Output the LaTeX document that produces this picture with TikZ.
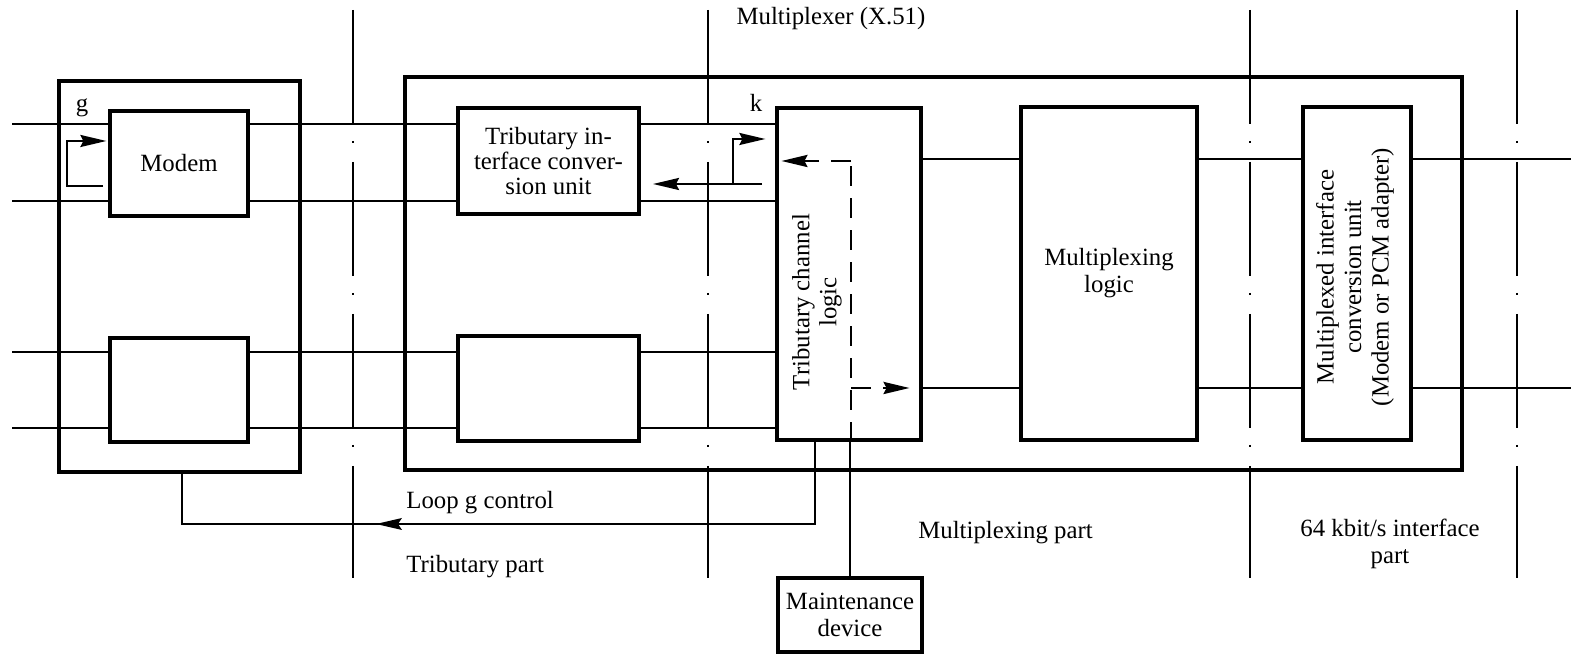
\documentclass[tikz,border=0pt]{standalone}
\usepackage{fontspec}
\setmainfont{Liberation Serif}
\usetikzlibrary{arrows.meta}
\begin{document}
\begin{tikzpicture}[x=0.5pt,y=-0.5pt,
  font=\fontsize{12.4}{13.5}\selectfont,
  box/.style={draw, line width=1.6pt, inner sep=0pt, align=center},
  sig/.style={line width=1.3pt},
  thinl/.style={line width=1.1pt},
  arr/.style={-{Stealth[length=13pt,width=6pt,inset=1.5pt]}},
  dashdot/.style={line width=0.9pt, dash pattern=on 57pt off 8.5pt on 1.2pt off 9.3pt},
  dsh/.style={line width=1.4pt, dash pattern=on 10pt off 6pt},
  lbl/.style={inner sep=0pt, align=center}]
\useasboundingbox (0,0) rectangle (1571,656);

% dash-dot separators
\foreach \xx/\nm in {353/s1,708/s2,1250/s3,1517/s4}{
  \coordinate (\nm t) at (\xx,10);
  \coordinate (\nm b) at (\xx,578);
  \draw[dashdot] (\nm t) -- (\nm b);
}

% boxes
\node[box, minimum width=120.5pt, minimum height=195.5pt] (outerL) at (179.5,276.5) {};
\node[box, minimum width=528.5pt, minimum height=196.5pt] (outerM) at (933.5,273.5) {};
\node[box, minimum width=69pt, minimum height=52.5pt] (modem1) at (179,163.5) {Modem};
\node[box, minimum width=69pt, minimum height=52pt] (modem2) at (179,390) {};
\node[box, minimum width=90.5pt, minimum height=53pt, font=\fontsize{12.4}{12.3}\selectfont] (trib1) at (548.5,161) {Tributary in-\\terface conver-\\sion unit};
\node[box, minimum width=90.5pt, minimum height=52.5pt] (trib2) at (548.5,388.5) {};
\node[box, minimum width=72pt, minimum height=166pt] (tcl) at (849,274) {};
\node[box, minimum width=88pt, minimum height=166.5pt] (mux) at (1109,273.5) {Multiplexing\\logic};
\node[box, minimum width=54pt, minimum height=166.5pt] (micu) at (1357,273.5) {};
\node[box, minimum width=72pt, minimum height=37pt] (maint) at (850,615) {Maintenance\\device};

\node[lbl, rotate=90] (tcltext) at (817,302) {Tributary channel\\logic};
\node[lbl, rotate=90, font=\fontsize{12.4}{13.8}\selectfont] (micutext) at (1355,277) {Multiplexed interface\\conversion unit\\(Modem or PCM adapter)};

% labels
\node[lbl] (mpx) at (831,19) {Multiplexer (X.51)};
\node[lbl, anchor=west] (loopl) at (406,503) {Loop g control};
\node[lbl, anchor=west] (tribp) at (406,567) {Tributary part};
\node[lbl, anchor=west] (muxp) at (918,533) {Multiplexing part};
\node[lbl] (ifp) at (1390,544) {64 kbit/s interface\\part};
\node[lbl] (gl) at (82,108) {g};
\node[lbl] (kl) at (756,103) {k};

% signal lines
\coordinate (inA) at (12,124);
\coordinate (inB) at (12,201);
\coordinate (inC) at (12,352);
\coordinate (inD) at (12,428);
\coordinate (outE) at (1571,159);
\coordinate (outF) at (1571,388);
\draw[sig] (inA) -- (inA -| modem1.west);
\draw[sig] (inB) -- (inB -| modem1.west);
\draw[sig] (inC) -- (inC -| modem2.west);
\draw[sig] (inD) -- (inD -| modem2.west);
\draw[sig] (modem1.east |- inA) -- (trib1.west |- inA);
\draw[sig] (modem1.east |- inB) -- (trib1.west |- inB);
\draw[sig] (modem2.east |- inC) -- (trib2.west |- inC);
\draw[sig] (modem2.east |- inD) -- (trib2.west |- inD);
\draw[sig] (trib1.east |- inA) -- (tcl.west |- inA);
\draw[sig] (trib1.east |- inB) -- (tcl.west |- inB);
\draw[sig] (trib2.east |- inC) -- (tcl.west |- inC);
\draw[sig] (trib2.east |- inD) -- (tcl.west |- inD);
\draw[sig] (tcl.east |- outE) -- (mux.west |- outE);
\draw[sig] (tcl.east |- outF) -- (mux.west |- outF);
\draw[sig] (mux.east |- outE) -- (micu.west |- outE);
\draw[sig] (mux.east |- outF) -- (micu.west |- outF);
\draw[sig] (micu.east |- outE) -- (outE);
\draw[sig] (micu.east |- outF) -- (outF);

% loop g at modem
\coordinate (gloop) at (103,186);
\draw[thinl, arr, shorten >=1pt] (gloop) -- (67,186) |- (modem1.west |- 0,141);

% loop k
\coordinate (kstart) at (762,184);
\coordinate (kend) at (653,184);
\draw[thinl, arr] (kstart) -- (kend);
\draw[thinl, arr, shorten >=5pt] (733,184) |- (tcl.west |- 0,139);

% dashed maintenance paths
\coordinate (dtop) at (851,161);
\coordinate (dbot) at (851,388);
\draw[dsh] (tcl.south -| dtop) -- (dtop);
\draw[dsh, arr, shorten >=3pt] (dtop) -- (tcl.west |- dtop);
\draw[dsh, arr, shorten >=6.5pt] (dbot) -- (tcl.east |- dbot);
\draw[thinl] (maint.north) -- (maint.north |- tcl.south);

% loop g control
\coordinate (lgcA) at (815,524);
\coordinate (lgc) at (376,524);
\coordinate (lgcB) at (182,524);
\draw[thinl] (tcl.south -| lgcA) -- (lgcA) -- (lgc) -- (lgcB) -- (outerL.south -| lgcB);
\fill (lgc) -- ++(26,-6) -- ++(-4,6) -- ++(4,6) -- cycle;
\end{tikzpicture}
\end{document}
